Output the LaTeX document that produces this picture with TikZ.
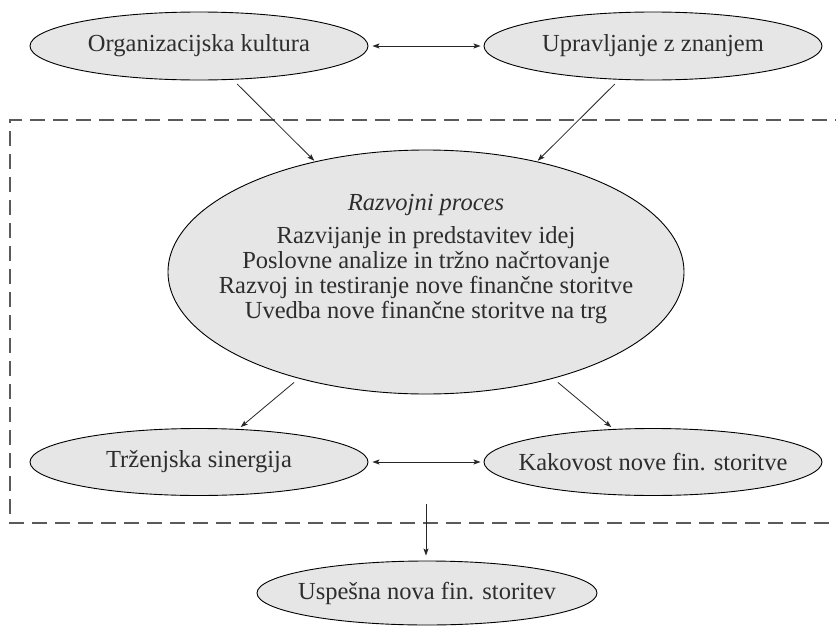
\documentclass[tikz,border=0pt]{standalone}
\usepackage{fontspec}
\setmainfont{Liberation Serif}
\usetikzlibrary{shapes.geometric,arrows.meta,calc}
\definecolor{ellfill}{RGB}{230,230,230}
\definecolor{txt}{RGB}{45,45,45}
\definecolor{dashc}{RGB}{90,90,90}
\tikzset{
  ell/.style={ellipse, draw=black, line width=0.9pt, fill=ellfill, inner sep=0pt,
    minimum width=338pt, minimum height=68pt},
  lbl/.style={text=txt, inner sep=0pt, font=\fontsize{24.5}{25}\selectfont},
  arr/.style={-{Stealth[length=7pt,width=5pt,inset=1.5pt]}, line width=0.8pt, draw=black!85},
  darr/.style={{Stealth[length=7pt,width=5pt,inset=1.5pt]}-{Stealth[length=7pt,width=5pt,inset=1.5pt]}, line width=0.8pt, draw=black!85},
  dbox/.style={draw=dashc, line width=1.1pt, dash pattern=on 15pt off 8pt}
}
\begin{document}
\begin{tikzpicture}[x=1pt,y=-1pt]
\useasboundingbox (0,0) rectangle (836,627);
\fill[white] (0,0) rectangle (836,627);
% dashed frame
\draw[dbox] (850,120) -- (10,120) -- (10,523) -- (850,523);
% nodes
\node[ell, label={[lbl]center:Organizacijska kultura}] (ok) at (199,46) {};
\node[ell, label={[lbl]center:Upravljanje z znanjem}] (uz) at (653,46) {};
\node[ell, minimum width=516pt, minimum height=244pt] (cp) at (426,272) {};
\node[lbl, align=center] (cpt) at (426,259)
  {\textit{Razvojni proces}\\[8pt]
   Razvijanje in predstavitev idej\\
   Poslovne analize in tržno načrtovanje\\
   Razvoj in testiranje nove finančne storitve\\
   Uvedba nove finančne storitve na trg};
\node[ell, minimum height=67pt, label={[lbl]center:Trženjska sinergija}] (ts) at (199,462) {};
\node[ell, minimum height=67pt, label={[lbl]center:Kakovost nove fin. storitve}] (kk) at (653,462) {};
\node[ell, minimum width=340pt, minimum height=64pt, label={[lbl]center:Uspešna nova fin. storitev}] (us) at (427,593) {};
\coordinate (low) at ($(ts.south)!0.5!(kk.south)$);
% connectors
\draw[darr, shorten <=4pt, shorten >=3pt] (ok) -- (uz);
\draw[darr, shorten <=4pt, shorten >=3pt] (ts) -- (kk);
\draw[arr, shorten <=6pt, shorten >=1pt] (ok) -- (cp);
\draw[arr, shorten <=6pt, shorten >=1pt] (uz) -- (cp);
\draw[arr, shorten <=6pt, shorten >=3pt] (cp) -- (ts);
\draw[arr, shorten <=6pt, shorten >=3pt] (cp) -- (kk);
\draw[arr, shorten >=5pt] ([yshift=-8pt]low) -- (us.north -| low);
\end{tikzpicture}
\end{document}
